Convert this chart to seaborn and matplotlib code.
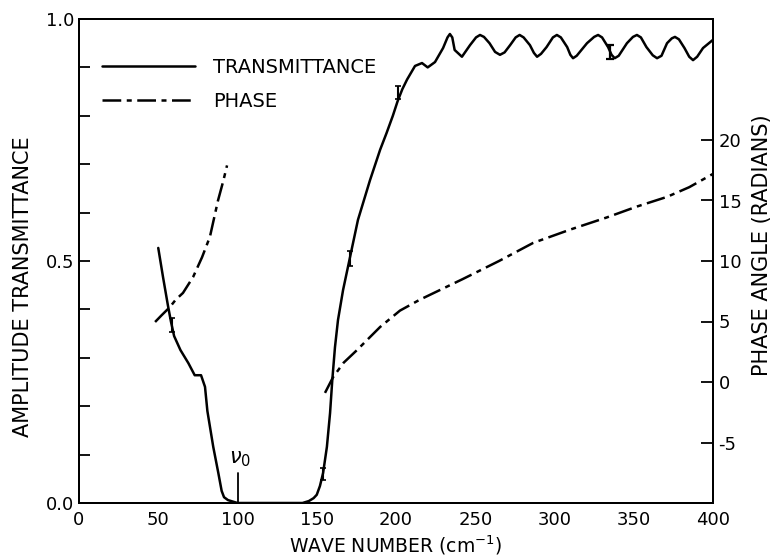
import numpy as np
import pandas as pd
import matplotlib
matplotlib.use("Agg")
import matplotlib.pyplot as plt
from matplotlib.lines import Line2D
import seaborn as sns

# Transmittance (left axis), two segments
trans_left_x = [50, 53, 56, 58, 60, 64, 69, 73, 77, 79.5, 81, 84.7, 87.9, 90, 91.5, 94, 97, 100]
trans_left_y = [0.527, 0.467, 0.41, 0.375, 0.345, 0.316, 0.289, 0.264, 0.264, 0.24, 0.19, 0.116, 0.062, 0.025, 0.012, 0.006, 0.003, 0.0]
trans_right_x = [100, 120, 141, 145, 148, 150, 152, 154, 156.4, 158.4, 159.8, 161.5, 163.4, 166.6, 171, 176, 183.6, 190, 194, 198, 201, 204, 207, 212, 216.4, 220, 224.6,
                 229.7, 232.5, 234, 235.5, 237, 241.6, 246.7, 250.5, 253, 255.5, 259, 262.5, 265.6, 268.5, 272, 275.5, 278, 280.5, 284.5, 287, 289, 291.5,
                 295, 299, 301.5, 304, 308, 310, 311.7, 314, 320.5, 325, 327.5, 330, 333.8, 336, 338, 340.5, 345.7, 349.5, 352, 354.5, 358, 362, 364.7, 367.5,
                 371, 374, 376, 378.5, 382, 385, 387.4, 390, 393.7, 400]
trans_right_y = [0.0, 0.0, 0.0, 0.004, 0.01, 0.017, 0.035, 0.062, 0.116, 0.186, 0.254, 0.322, 0.378, 0.44, 0.508, 0.585, 0.667, 0.73, 0.764, 0.80, 0.83, 0.855, 0.875, 0.903, 0.909, 0.90, 0.911,
                 0.94, 0.962, 0.969, 0.962, 0.936, 0.922, 0.946, 0.962, 0.967, 0.963, 0.95, 0.932, 0.926, 0.931, 0.946, 0.962, 0.967, 0.962, 0.946, 0.93, 0.922, 0.928,
                 0.942, 0.962, 0.967, 0.962, 0.942, 0.926, 0.919, 0.924, 0.95, 0.963, 0.967, 0.962, 0.942, 0.926, 0.919, 0.924, 0.95, 0.963, 0.967, 0.962, 0.942, 0.925, 0.919, 0.924,
                 0.95, 0.96, 0.963, 0.958, 0.94, 0.922, 0.915, 0.922, 0.94, 0.957]

# Phase (right axis), two segments
phase_left_x = [48, 52, 57.4, 61, 65.6, 72, 77.6, 82.6, 87.7, 91, 93.4]
phase_left_y = [4.96, 5.5, 6.2, 6.8, 7.36, 8.68, 10.3, 12.0, 15.0, 16.6, 17.9]
phase_right_x = [155.2, 160.3, 167, 175.4, 190, 202.5, 215, 242, 265, 286.6, 310, 333, 352, 371, 385, 400]
phase_right_y = [-0.9, 0.4, 1.6, 2.64, 4.55, 5.9, 6.8, 8.5, 10.0, 11.5, 12.6, 13.6, 14.5, 15.3, 16.1, 17.2]

# Error bars on transmittance
err_x = [58.8, 154, 171, 201]
err_y = [0.368, 0.06, 0.505, 0.848]
err_h = [0.014, 0.013, 0.015, 0.013]
bigerr_x = [335]
bigerr_y = [0.932]
bigerr_h = [0.014]

x_ticks_major = [0, 50, 100, 150, 200, 250, 300, 350, 400]
y_ticks_major = [0.0, 0.5, 1.0]
phase_ticks = [-5, 0, 5, 10, 15, 20]

sns.set_style("white")
plt.rcParams["font.family"] = ["DejaVu Sans"]
plt.rcParams["text.color"] = "black"
plt.rcParams["axes.labelcolor"] = "black"
plt.rcParams["xtick.color"] = "black"
plt.rcParams["ytick.color"] = "black"

fig = plt.figure(figsize=(7.73, 5.57), dpi=100)
ax = fig.add_axes([79/773, 54/557, 634/773, 484/557])
ax2 = ax.twinx()

dash = (0, (7.5, 2.2, 2.0, 2.2))
lw = 1.8

sns.lineplot(x=trans_left_x, y=trans_left_y, ax=ax, color="black", lw=lw, sort=False, estimator=None)
sns.lineplot(x=trans_right_x, y=trans_right_y, ax=ax, color="black", lw=lw, sort=False, estimator=None)
sns.lineplot(x=phase_left_x, y=phase_left_y, ax=ax2, color="black", lw=lw, linestyle=dash, sort=False, estimator=None)
sns.lineplot(x=phase_right_x, y=phase_right_y, ax=ax2, color="black", lw=lw, linestyle=dash, sort=False, estimator=None)

ax.errorbar(err_x, err_y, yerr=err_h, fmt="none", ecolor="black", elinewidth=1.5, capsize=2, capthick=1.2)
ax.errorbar(bigerr_x, bigerr_y, yerr=bigerr_h, fmt="none", ecolor="black", elinewidth=1.6, capsize=3, capthick=1.6)

# nu_0 marker
ax.plot([100, 100], [0, 0.062], color="black", lw=1.3)
ax.text(101.5, 0.07, r"$\nu_0$", fontsize=15, ha="center", va="bottom")

ax.set_xlim(0, 400)
ax.set_ylim(0, 1.0)
ax2.set_ylim(-10, 30)

xt = np.arange(0, 401, 25)
ax.set_xticks(xt)
ax.set_xticklabels([str(int(v)) if v in x_ticks_major else "" for v in xt])
yt = np.round(np.arange(0, 1.01, 0.1), 2)
ax.set_yticks(yt)
ax.set_yticklabels([f"{v:.1f}" if v in y_ticks_major else "" for v in yt])
ax2.set_yticks(phase_ticks)
ax2.set_yticklabels([str(v) for v in phase_ticks])

for a in (ax, ax2):
    a.tick_params(direction="in", length=8, width=1.3, labelsize=13, colors="black")
    for s in a.spines.values():
        s.set_linewidth(1.4)
        s.set_color("black")
ax.tick_params(axis="x", pad=6)
ax2.tick_params(axis="y", direction="in", length=9, pad=4)

ax.set_xlabel(r"WAVE NUMBER (cm$^{-1}$)", fontsize=13.5, labelpad=3)
ax.set_ylabel("AMPLITUDE TRANSMITTANCE", fontsize=15)
ax2.set_ylabel("PHASE ANGLE (RADIANS)", fontsize=15)
ax.yaxis.set_label_coords(-0.073, 0.446)
ax2.yaxis.set_label_coords(1.061, 0.533)

handles = [Line2D([0], [0], color="black", lw=lw),
           Line2D([0], [0], color="black", lw=lw, linestyle=dash)]
ax.legend(handles, ["TRANSMITTANCE", "PHASE"], loc="upper left", bbox_to_anchor=(0.018, 0.943),
          frameon=False, fontsize=14, handlelength=4.8, handletextpad=0.9, labelspacing=0.75,
          borderaxespad=0.2)

fig.savefig("out.png", dpi=100)
